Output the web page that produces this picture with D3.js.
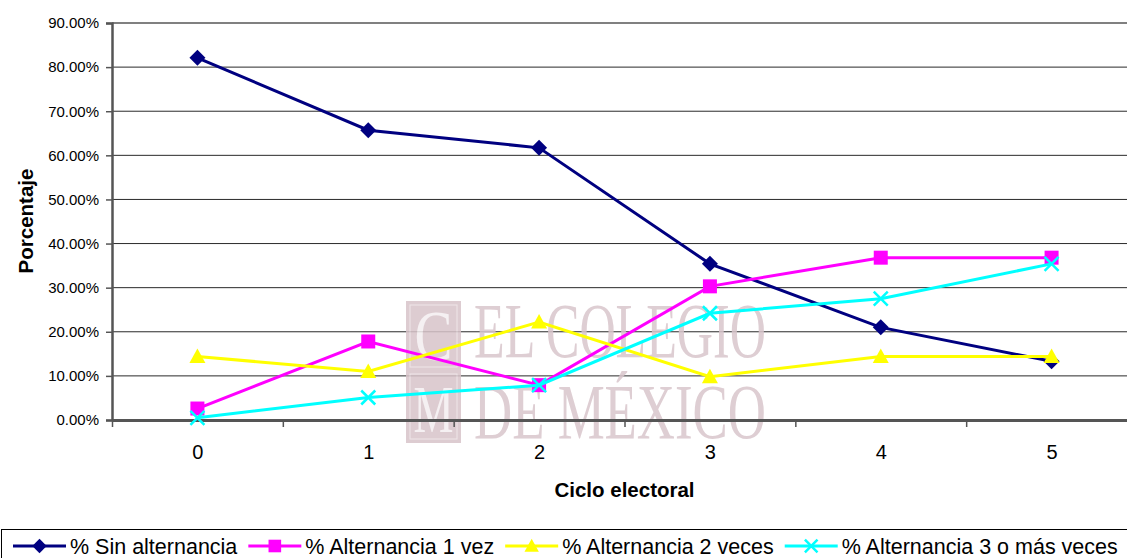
<!DOCTYPE html>
<html>
<head>
<meta charset="utf-8">
<script src="https://cdn.jsdelivr.net/npm/d3@7"></script>
<style>
  html, body { margin: 0; padding: 0; background: #fff; }
  svg { display: block; font-family: "Liberation Sans", Arial, sans-serif; }
</style>
</head>
<body>
<svg id="chart" width="1127" height="558"></svg>
<script>
// ---- data ----
const categories = [0, 1, 2, 3, 4, 5];
const yTicks = [0, 0.1, 0.2, 0.3, 0.4, 0.5, 0.6, 0.7, 0.8, 0.9];
const sinAlternancia   = [0.821, 0.657, 0.617, 0.354, 0.210, 0.133];
const alternancia1     = [0.026, 0.178, 0.079, 0.303, 0.368, 0.368];
const alternancia2     = [0.144, 0.110, 0.222, 0.098, 0.144, 0.144];
const alternancia3     = [0.005, 0.051, 0.079, 0.242, 0.275, 0.354];
const seriesNames = ["% Sin alternancia", "% Alternancia 1 vez", "% Alternancia 2 veces", "% Alternancia 3 o más veces"];
const xTitle = "Ciclo electoral";
const yTitle = "Porcentaje";

const series = [
  { name: seriesNames[0], values: sinAlternancia, color: "#000080", marker: "diamond" },
  { name: seriesNames[1], values: alternancia1,   color: "#FF00FF", marker: "square" },
  { name: seriesNames[2], values: alternancia2,   color: "#FFFF00", marker: "triangle" },
  { name: seriesNames[3], values: alternancia3,   color: "#00FFFF", marker: "x" }
];

const svg = d3.select("#chart");
const pLeft = 112, pRight = 1137, pTop = 23, pBottom = 420;

const x = d3.scaleLinear().domain([-0.5, 5.5]).range([pLeft, pRight]);
const y = d3.scaleLinear().domain([0, 0.9]).range([pBottom, pTop]);

// gridlines
svg.append("g").selectAll("line").data(yTicks.filter(d => d > 0)).join("line")
  .attr("x1", pLeft).attr("x2", pRight)
  .attr("y1", d => y(d)).attr("y2", d => y(d))
  .attr("stroke", d => d === 0.9 ? "#808080" : "#2a2a2a")
  .attr("stroke-width", d => d === 0.9 ? 2 : 1);

// watermark
const wm = svg.append("g").attr("opacity", 0.85);
wm.append("rect").attr("x", 406).attr("y", 301).attr("width", 55).attr("height", 142).attr("fill", "#d8c4ca");
wm.append("rect").attr("x", 410).attr("y", 305).attr("width", 47).attr("height", 62).attr("fill", "none").attr("stroke", "#ece2e5").attr("stroke-width", 1);
wm.append("rect").attr("x", 410).attr("y", 374).attr("width", 47).attr("height", 65).attr("fill", "none").attr("stroke", "#ece2e5").attr("stroke-width", 1);
wm.append("text").attr("x", 433.5).attr("y", 360).attr("text-anchor", "middle")
  .attr("font-family", "Liberation Serif, serif").attr("font-size", 72).attr("fill", "#f4eef0")
  .attr("textLength", 38).attr("lengthAdjust", "spacingAndGlyphs").text("C");
wm.append("text").attr("x", 433.5).attr("y", 432).attr("text-anchor", "middle")
  .attr("font-family", "Liberation Serif, serif").attr("font-size", 68).attr("fill", "#f4eef0")
  .attr("textLength", 40).attr("lengthAdjust", "spacingAndGlyphs").text("M");
wm.append("text").attr("x", 474).attr("y", 357)
  .attr("font-family", "Liberation Serif, serif").attr("font-size", 78).attr("fill", "#d9c6cc")
  .attr("textLength", 292).attr("lengthAdjust", "spacingAndGlyphs").text("EL COLEGIO");
wm.append("text").attr("x", 474).attr("y", 438)
  .attr("font-family", "Liberation Serif, serif").attr("font-size", 78).attr("fill", "#d9c6cc")
  .attr("textLength", 292).attr("lengthAdjust", "spacingAndGlyphs").text("DE MÉXICO");

// axes
const yAxis = d3.axisLeft(y).tickValues(yTicks).tickFormat(d3.format(".2%")).tickSize(6).tickPadding(7);
const gy = svg.append("g").attr("transform", `translate(${pLeft},0)`).call(yAxis);
gy.select(".domain").attr("stroke", "#555").attr("stroke-width", 2.5);
gy.selectAll(".tick line").attr("stroke", "#555").attr("stroke-width", 1.5);
gy.selectAll(".tick text").attr("font-size", 15).attr("fill", "#000")
  .attr("font-family", "Liberation Sans, Arial, sans-serif");

const boundaries = d3.range(-0.5, 6, 1);
const xAxisTicks = d3.axisBottom(x).tickValues(boundaries).tickFormat("").tickSize(7).tickSizeOuter(0);
const gx = svg.append("g").attr("transform", `translate(0,${pBottom})`).call(xAxisTicks);
gx.select(".domain").attr("stroke", "#555").attr("stroke-width", 3);
gx.selectAll(".tick line").attr("stroke", "#555").attr("stroke-width", 1.5);
gx.selectAll(".tick text").remove();

const xAxisLabels = d3.axisBottom(x).tickValues(categories).tickFormat(d3.format("d")).tickSize(0).tickPadding(25);
const gxl = svg.append("g").attr("transform", `translate(0,${pBottom})`).call(xAxisLabels);
gxl.select(".domain").remove();
gxl.selectAll(".tick text").attr("font-size", 20).attr("fill", "#000")
  .attr("font-family", "Liberation Sans, Arial, sans-serif");

// axis titles
svg.append("text").attr("x", (pLeft + pRight) / 2).attr("y", 497).attr("text-anchor", "middle")
  .attr("font-size", 20.5).attr("font-weight", "bold").text(xTitle);
svg.append("text").attr("transform", `translate(33,221) rotate(-90)`).attr("text-anchor", "middle")
  .attr("font-size", 20.5).attr("font-weight", "bold").text(yTitle);

// markers
function drawMarker(g, type, cx, cy, color, s) {
  s = s || 1;
  if (type === "diamond") {
    const r = 8 * s;
    g.append("path").attr("d", `M${cx},${cy - r}L${cx + r},${cy}L${cx},${cy + r}L${cx - r},${cy}Z`).attr("fill", color);
  } else if (type === "square") {
    const r = 7 * s;
    g.append("rect").attr("x", cx - r).attr("y", cy - r).attr("width", 2 * r).attr("height", 2 * r).attr("fill", color);
  } else if (type === "triangle") {
    const r = 8 * s;
    g.append("path").attr("d", `M${cx},${cy - r}L${cx + r},${cy + r * 0.8}L${cx - r},${cy + r * 0.8}Z`).attr("fill", color);
  } else if (type === "x") {
    const r = 7 * s;
    g.append("path").attr("d", `M${cx - r},${cy - r}L${cx + r},${cy + r}M${cx + r},${cy - r}L${cx - r},${cy + r}`)
      .attr("stroke", color).attr("stroke-width", 2.5).attr("fill", "none");
  }
}

const line = d3.line().x((d, i) => x(categories[i])).y(d => y(d));
series.forEach(s => {
  const g = svg.append("g");
  g.append("path").datum(s.values).attr("d", line).attr("fill", "none")
    .attr("stroke", s.color).attr("stroke-width", 3);
  s.values.forEach((v, i) => drawMarker(g, s.marker, x(categories[i]), y(v), s.color));
});

// legend
svg.append("rect").attr("x", 1.5).attr("y", 529.5).attr("width", 1140).attr("height", 40)
  .attr("fill", "#fff").attr("stroke", "#000").attr("stroke-width", 1);
let lx = 13;
const ly = 546;
series.forEach(s => {
  const g = svg.append("g");
  g.append("line").attr("x1", lx).attr("x2", lx + 53).attr("y1", ly).attr("y2", ly)
    .attr("stroke", s.color).attr("stroke-width", 3);
  drawMarker(g, s.marker, lx + 26.5, ly, s.color, 0.9);
  const t = g.append("text").attr("x", lx + 57).attr("y", 554).attr("font-size", 21.5).text(s.name);
  lx = lx + 57 + t.node().getComputedTextLength() + 11;
});
</script>
</body>
</html>
